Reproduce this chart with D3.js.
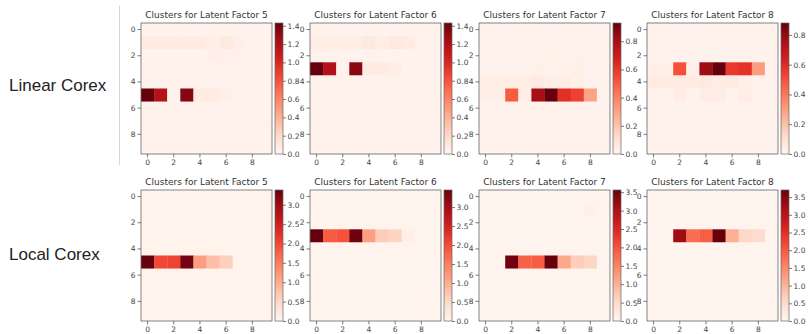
<!DOCTYPE html>
<html>
<head>
<meta charset="utf-8">
<script src="https://cdn.jsdelivr.net/npm/d3@7"></script>
<style>
  body { margin: 0; background: #fff; }
  svg { display: block; font-family: "DejaVu Sans", sans-serif; }
</style>
</head>
<body>
<svg id="chart" width="808" height="334"></svg>
<script>
// row labels, panel factors and tick labels
const rowLabels = ["Linear Corex", "Local Corex"];
const factors = [5, 6, 7, 8];
const axisTicks = [0, 2, 4, 6, 8];

// heatmap values (10 x 10 each)
const linearF5 = [
  [0.03, 0.03, 0.03, 0.03, 0.03, 0.03, 0.03, 0.03, 0.03, 0.03],
  [0.08, 0.08, 0.08, 0.08, 0.08, 0.06, 0.10, 0.05, 0.03, 0.03],
  [0.03, 0.03, 0.03, 0.03, 0.03, 0.05, 0.04, 0.04, 0.03, 0.03],
  [0.03, 0.03, 0.03, 0.03, 0.03, 0.03, 0.03, 0.03, 0.03, 0.03],
  [0.03, 0.03, 0.03, 0.03, 0.03, 0.03, 0.03, 0.03, 0.03, 0.03],
  [1.43, 1.18, 0.03, 1.34, 0.08, 0.08, 0.05, 0.03, 0.03, 0.03],
  [0.03, 0.03, 0.03, 0.03, 0.03, 0.03, 0.03, 0.03, 0.03, 0.03],
  [0.03, 0.03, 0.03, 0.03, 0.03, 0.03, 0.03, 0.03, 0.03, 0.03],
  [0.03, 0.03, 0.03, 0.03, 0.03, 0.03, 0.03, 0.03, 0.03, 0.03],
  [0.03, 0.03, 0.03, 0.03, 0.03, 0.03, 0.03, 0.03, 0.03, 0.03]
];
const linearF6 = [
  [0.03, 0.03, 0.03, 0.03, 0.03, 0.03, 0.03, 0.03, 0.03, 0.03],
  [0.07, 0.07, 0.07, 0.07, 0.10, 0.07, 0.10, 0.08, 0.03, 0.03],
  [0.03, 0.03, 0.03, 0.03, 0.03, 0.03, 0.03, 0.03, 0.03, 0.03],
  [1.43, 1.18, 0.03, 1.33, 0.08, 0.08, 0.06, 0.03, 0.03, 0.03],
  [0.03, 0.03, 0.03, 0.03, 0.03, 0.03, 0.03, 0.03, 0.03, 0.03],
  [0.03, 0.03, 0.03, 0.03, 0.03, 0.03, 0.03, 0.03, 0.03, 0.03],
  [0.03, 0.03, 0.03, 0.03, 0.03, 0.03, 0.03, 0.03, 0.03, 0.03],
  [0.03, 0.03, 0.03, 0.03, 0.03, 0.03, 0.03, 0.03, 0.03, 0.03],
  [0.03, 0.03, 0.03, 0.03, 0.03, 0.03, 0.03, 0.03, 0.03, 0.03],
  [0.03, 0.03, 0.03, 0.03, 0.03, 0.03, 0.03, 0.03, 0.03, 0.03]
];
const linearF7 = [
  [0.02, 0.02, 0.02, 0.02, 0.02, 0.02, 0.02, 0.02, 0.02, 0.02],
  [0.02, 0.02, 0.02, 0.02, 0.02, 0.02, 0.02, 0.02, 0.02, 0.02],
  [0.02, 0.02, 0.02, 0.03, 0.02, 0.03, 0.02, 0.03, 0.02, 0.02],
  [0.02, 0.02, 0.02, 0.02, 0.03, 0.02, 0.02, 0.03, 0.02, 0.02],
  [0.05, 0.05, 0.05, 0.05, 0.06, 0.04, 0.05, 0.03, 0.02, 0.02],
  [0.04, 0.04, 0.50, 0.04, 0.80, 0.93, 0.62, 0.57, 0.30, 0.02],
  [0.02, 0.02, 0.02, 0.02, 0.02, 0.02, 0.02, 0.02, 0.02, 0.02],
  [0.02, 0.02, 0.02, 0.02, 0.02, 0.02, 0.02, 0.02, 0.02, 0.02],
  [0.02, 0.02, 0.02, 0.02, 0.02, 0.02, 0.02, 0.02, 0.02, 0.02],
  [0.02, 0.02, 0.02, 0.02, 0.02, 0.02, 0.02, 0.02, 0.02, 0.02]
];
const linearF8 = [
  [0.02, 0.02, 0.02, 0.02, 0.02, 0.02, 0.02, 0.02, 0.02, 0.02],
  [0.02, 0.02, 0.02, 0.02, 0.02, 0.02, 0.02, 0.02, 0.02, 0.02],
  [0.02, 0.02, 0.02, 0.02, 0.02, 0.02, 0.02, 0.02, 0.02, 0.02],
  [0.03, 0.03, 0.50, 0.03, 0.78, 0.88, 0.56, 0.58, 0.30, 0.02],
  [0.05, 0.05, 0.05, 0.05, 0.06, 0.04, 0.05, 0.03, 0.02, 0.02],
  [0.02, 0.02, 0.04, 0.02, 0.04, 0.04, 0.02, 0.04, 0.02, 0.02],
  [0.02, 0.02, 0.02, 0.02, 0.02, 0.02, 0.02, 0.02, 0.02, 0.02],
  [0.02, 0.02, 0.02, 0.02, 0.02, 0.02, 0.02, 0.02, 0.02, 0.02],
  [0.02, 0.02, 0.02, 0.02, 0.02, 0.02, 0.02, 0.02, 0.02, 0.02],
  [0.02, 0.02, 0.02, 0.02, 0.02, 0.02, 0.02, 0.02, 0.02, 0.02]
];
const localF5 = [
  [0.05, 0.05, 0.05, 0.05, 0.05, 0.05, 0.05, 0.05, 0.05, 0.05],
  [0.05, 0.05, 0.05, 0.05, 0.05, 0.05, 0.05, 0.05, 0.05, 0.05],
  [0.05, 0.05, 0.05, 0.05, 0.05, 0.05, 0.05, 0.05, 0.05, 0.05],
  [0.05, 0.05, 0.05, 0.05, 0.05, 0.05, 0.05, 0.05, 0.05, 0.05],
  [0.05, 0.05, 0.05, 0.05, 0.05, 0.05, 0.05, 0.05, 0.05, 0.05],
  [3.38, 2.00, 2.05, 3.30, 1.15, 0.80, 0.60, 0.05, 0.05, 0.05],
  [0.05, 0.05, 0.05, 0.05, 0.05, 0.05, 0.05, 0.05, 0.05, 0.05],
  [0.05, 0.05, 0.05, 0.05, 0.05, 0.05, 0.05, 0.05, 0.05, 0.05],
  [0.05, 0.05, 0.05, 0.05, 0.05, 0.05, 0.05, 0.05, 0.05, 0.05],
  [0.05, 0.05, 0.05, 0.05, 0.05, 0.05, 0.05, 0.05, 0.05, 0.05]
];
const localF6 = [
  [0.05, 0.05, 0.05, 0.05, 0.05, 0.05, 0.05, 0.05, 0.05, 0.05],
  [0.05, 0.05, 0.05, 0.05, 0.05, 0.05, 0.05, 0.05, 0.05, 0.05],
  [0.05, 0.05, 0.05, 0.05, 0.05, 0.05, 0.05, 0.05, 0.05, 0.05],
  [3.45, 1.85, 1.95, 3.40, 1.15, 0.65, 0.55, 0.12, 0.05, 0.05],
  [0.05, 0.05, 0.05, 0.05, 0.05, 0.05, 0.05, 0.05, 0.05, 0.05],
  [0.05, 0.05, 0.05, 0.05, 0.05, 0.05, 0.05, 0.05, 0.05, 0.05],
  [0.05, 0.05, 0.05, 0.05, 0.05, 0.05, 0.05, 0.05, 0.05, 0.05],
  [0.05, 0.05, 0.05, 0.05, 0.05, 0.05, 0.05, 0.05, 0.05, 0.05],
  [0.05, 0.05, 0.05, 0.05, 0.05, 0.05, 0.05, 0.05, 0.05, 0.05],
  [0.05, 0.05, 0.05, 0.05, 0.05, 0.05, 0.05, 0.05, 0.05, 0.05]
];
const localF7 = [
  [0.05, 0.05, 0.05, 0.05, 0.05, 0.05, 0.05, 0.05, 0.05, 0.05],
  [0.05, 0.05, 0.05, 0.05, 0.05, 0.05, 0.05, 0.05, 0.10, 0.05],
  [0.05, 0.05, 0.05, 0.05, 0.05, 0.05, 0.05, 0.05, 0.05, 0.05],
  [0.05, 0.05, 0.05, 0.05, 0.05, 0.05, 0.05, 0.05, 0.05, 0.05],
  [0.05, 0.05, 0.05, 0.05, 0.05, 0.05, 0.05, 0.05, 0.05, 0.05],
  [0.05, 0.05, 3.50, 1.85, 1.90, 3.56, 1.10, 0.65, 0.55, 0.05],
  [0.05, 0.05, 0.05, 0.05, 0.05, 0.05, 0.05, 0.05, 0.05, 0.05],
  [0.05, 0.05, 0.05, 0.05, 0.05, 0.05, 0.05, 0.05, 0.05, 0.05],
  [0.05, 0.05, 0.05, 0.05, 0.05, 0.05, 0.05, 0.05, 0.05, 0.05],
  [0.05, 0.05, 0.05, 0.05, 0.05, 0.05, 0.05, 0.05, 0.05, 0.05]
];
const localF8 = [
  [0.05, 0.05, 0.05, 0.05, 0.05, 0.05, 0.05, 0.05, 0.05, 0.05],
  [0.05, 0.05, 0.05, 0.05, 0.05, 0.05, 0.05, 0.05, 0.05, 0.05],
  [0.05, 0.05, 0.05, 0.05, 0.05, 0.05, 0.05, 0.05, 0.05, 0.05],
  [0.05, 0.05, 3.25, 1.80, 1.95, 3.70, 1.05, 0.55, 0.50, 0.05],
  [0.05, 0.05, 0.05, 0.05, 0.05, 0.05, 0.05, 0.05, 0.05, 0.05],
  [0.05, 0.05, 0.05, 0.05, 0.05, 0.05, 0.05, 0.05, 0.05, 0.05],
  [0.05, 0.05, 0.05, 0.05, 0.05, 0.05, 0.05, 0.05, 0.05, 0.05],
  [0.05, 0.05, 0.05, 0.05, 0.05, 0.05, 0.05, 0.05, 0.05, 0.05],
  [0.05, 0.05, 0.05, 0.05, 0.05, 0.05, 0.05, 0.05, 0.05, 0.05],
  [0.05, 0.05, 0.05, 0.05, 0.05, 0.05, 0.05, 0.05, 0.05, 0.05]
];

// colour bar ranges and ticks
const linearMax = [1.43, 1.43, 0.93, 0.88];
const localMax = [3.38, 3.45, 3.56, 3.70];
const ticksLinearA = [0, 0.2, 0.4, 0.6, 0.8, 1.0, 1.2, 1.4];
const ticksLinearB = [0, 0.2, 0.4, 0.6, 0.8];
const ticksLocalA = [0, 0.5, 1.0, 1.5, 2.0, 2.5, 3.0];
const ticksLocalB = [0, 0.5, 1.0, 1.5, 2.0, 2.5, 3.0, 3.5];

const rows = [
  { label: rowLabels[0], mats: [linearF5, linearF6, linearF7, linearF8], vmax: linearMax,
    ticks: [ticksLinearA, ticksLinearA, ticksLinearB, ticksLinearB] },
  { label: rowLabels[1], mats: [localF5, localF6, localF7, localF8], vmax: localMax,
    ticks: [ticksLocalA, ticksLocalA, ticksLocalB, ticksLocalB] }
];

const svg = d3.select("#chart");
const plotLeft = [141, 310, 479, 647];
const plotTop = [23, 190];
const size = 131;
const cbGap = 3, cbWidth = 8;
const tickColor = "#444";
const frameColor = "#666";

// shared gradient for the colour bars
const grad = svg.append("defs").append("linearGradient")
  .attr("id", "reds").attr("x1", 0).attr("y1", 1).attr("x2", 0).attr("y2", 0);
d3.range(0, 1.0001, 0.05).forEach(t => {
  grad.append("stop").attr("offset", t).attr("stop-color", d3.interpolateReds(t));
});

// separator line next to the row labels
svg.append("line")
  .attr("x1", 119.5).attr("x2", 119.5).attr("y1", 6).attr("y2", 165)
  .attr("stroke", "#d6d6d6").attr("stroke-width", 1);

const labelY = [91, 260];

rows.forEach((row, r) => {
  svg.append("text")
    .attr("x", 9).attr("y", labelY[r])
    .style("font-family", "'Liberation Sans', Arial, sans-serif")
    .style("font-size", "17px")
    .attr("fill", "#222")
    .text(row.label);

  row.mats.forEach((mat, p) => {
    const g = svg.append("g").attr("transform", `translate(${plotLeft[p]},${plotTop[r]})`);
    const x = d3.scaleBand().domain(d3.range(10)).range([0, size]);
    const y = d3.scaleBand().domain(d3.range(10)).range([0, size]);
    const color = d3.scaleSequential(d3.interpolateReds).domain([0, row.vmax[p]]);

    const cells = [];
    mat.forEach((vals, i) => vals.forEach((v, j) => cells.push({ i, j, v })));

    g.selectAll("rect.cell")
      .data(cells)
      .enter().append("rect")
      .attr("class", "cell")
      .attr("x", d => x(d.j))
      .attr("y", d => y(d.i))
      .attr("width", x.bandwidth() + 0.3)
      .attr("height", y.bandwidth() + 0.3)
      .attr("fill", d => color(d.v));

    g.append("rect")
      .attr("width", size).attr("height", size)
      .attr("fill", "none").attr("stroke", frameColor).attr("stroke-width", 0.8);

    // title
    g.append("text")
      .attr("x", size / 2).attr("y", -5)
      .attr("text-anchor", "middle")
      .style("font-size", "9px")
      .attr("fill", "#333")
      .text(`Clusters for Latent Factor ${factors[p]}`);

    // axes
    const yAxis = g.append("g")
      .call(d3.axisLeft(y).tickValues(axisTicks).tickSize(3.5).tickPadding(2));
    const xAxis = g.append("g").attr("transform", `translate(0,${size})`)
      .call(d3.axisBottom(x).tickValues(axisTicks).tickSize(3.5).tickPadding(2));
    [yAxis, xAxis].forEach(a => {
      a.select(".domain").remove();
      a.selectAll("line").attr("stroke", tickColor).attr("stroke-width", 0.7);
      a.selectAll("text").attr("fill", tickColor)
        .style("font-size", "7.5px").style("font-family", "'DejaVu Sans', sans-serif");
    });

    // colour bar
    const cb = g.append("g").attr("transform", `translate(${size + cbGap},0)`);
    cb.append("rect")
      .attr("width", cbWidth).attr("height", size)
      .attr("fill", "url(#reds)")
      .attr("stroke", frameColor).attr("stroke-width", 0.7);
    const cy = d3.scaleLinear().domain([0, row.vmax[p]]).range([size, 0]);
    const cbAxis = cb.append("g").attr("transform", `translate(${cbWidth},0)`)
      .call(d3.axisRight(cy).tickValues(row.ticks[p]).tickFormat(d3.format(".1f"))
        .tickSize(3).tickPadding(1.5));
    cbAxis.select(".domain").remove();
    cbAxis.selectAll("line").attr("stroke", tickColor).attr("stroke-width", 0.7);
    cbAxis.selectAll("text").attr("fill", tickColor)
      .style("font-size", "7.5px").style("font-family", "'DejaVu Sans', sans-serif");
  });
});
</script>
</body>
</html>
